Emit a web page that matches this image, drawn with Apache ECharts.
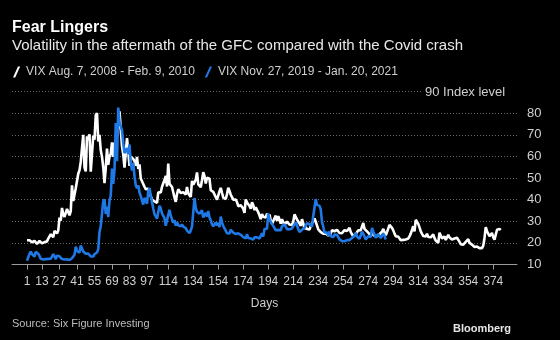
<!DOCTYPE html>
<html>
<head>
<meta charset="utf-8">
<script src="https://cdn.jsdelivr.net/npm/echarts@6/dist/echarts.min.js"></script>
<style>
html,body{margin:0;padding:0;background:#000;}
#c{width:560px;height:340px;}
</style>
</head>
<body>
<div id="c"></div>
<script>
// Day-by-day VIX closes, GFC window (day 1 = Aug. 7, 2008)
const vixGFC = [
  // Aug 2008
  21.2, 20.7, 21.2, 20.5, 20.3, 21.2, 20.9, 20.0, 19.6, 20.4, 20.9, 20.2, 19.8, 19.7, 20.4, 20.0, 20.7,
  // Sep
  22.0, 22.6, 24.0, 23.1, 22.6, 25.5, 24.8, 24.4, 25.7, 31.7, 30.3, 36.2, 33.1, 32.1, 33.9, 35.7, 35.7, 32.8, 34.7, 46.7, 39.4,
  // Oct
  39.8, 45.3, 45.1, 52.0, 53.7, 57.5, 63.9, 70.0, 55.0, 53.1, 69.3, 67.6, 70.3, 53.0, 53.1, 69.7, 67.8, 79.1, 80.1, 67.0, 70.0, 62.9, 59.9,
  // Nov
  54.9, 47.7, 54.6, 63.7, 56.1, 60.0, 61.2, 66.5, 59.8, 66.3, 65.0, 64.7, 74.3, 80.9, 72.7, 64.7, 60.9, 54.9, 55.3,
  // Dec
  68.5, 62.4, 55.7, 59.9, 59.9, 58.9, 57.9, 55.7, 59.8, 54.3, 56.4, 49.8, 50.0, 47.3, 46.0, 44.9, 44.2, 45.0, 43.4, 43.9, 40.0, 40.0,
  // Jan 2009
  39.2, 39.1, 38.6, 43.4, 42.8, 43.3, 46.0, 45.8, 49.1, 51.0, 46.1, 56.7, 47.3, 47.3, 45.9, 45.6, 41.0, 39.0, 42.6, 44.8,
  // Feb
  45.5, 43.1, 43.3, 43.4, 43.0, 42.4, 45.9, 42.9, 43.1, 41.3, 48.7, 47.0, 46.5, 49.3, 52.6, 47.1, 46.8, 45.8, 49.0,
  // Mar
  52.7, 50.9, 47.5, 50.2, 49.3, 49.7, 44.4, 45.0, 43.6, 42.4, 41.2, 40.0, 40.3, 43.8, 45.5, 43.2, 41.0, 40.9, 40.3, 42.6, 45.5, 44.1,
  // Apr
  42.3, 42.0, 40.0, 40.9, 40.1, 38.9, 37.0, 36.8, 37.4, 36.9, 35.8, 33.9, 40.1, 38.7, 38.0, 37.1, 35.8, 38.8, 37.5, 35.2, 36.5,
  // May
  35.3, 34.2, 32.7, 31.0, 33.3, 32.1, 31.8, 31.8, 33.6, 31.4, 33.1, 30.2, 28.8, 29.6, 31.4, 32.6, 30.2, 32.4, 30.7, 28.9,
  // Jun
  31.0, 29.6, 28.5, 28.0, 29.8, 29.6, 28.5, 28.8, 28.3, 29.8, 33.2, 32.7, 30.8, 31.5, 29.0, 27.9, 31.0, 29.0, 26.4, 27.4, 26.4, 26.4,
  // Jul
  26.2, 27.9, 29.0, 29.0, 31.3, 29.8, 29.0, 26.3, 25.9, 25.0, 25.4, 24.3, 24.4, 24.4, 24.3, 23.4, 23.1, 24.3, 25.9, 26.6, 25.4, 25.9,
  // Aug
  26.0, 25.5, 24.6, 24.5, 24.5, 24.5, 25.9, 25.3, 25.5, 24.8, 27.0, 25.0, 25.5, 23.0, 23.4, 24.1, 24.4, 25.8, 25.2, 25.9, 26.0,
  // Sep
  29.2, 26.5, 26.1, 25.3, 24.8, 24.1, 24.2, 24.1, 24.3, 23.4, 23.9, 23.1, 23.9, 24.0, 23.4, 25.2, 26.5, 25.6, 23.5, 25.0, 25.6,
  // Oct
  28.3, 28.7, 27.0, 25.8, 24.3, 23.1, 23.1, 22.9, 23.0, 21.2, 21.6, 21.4, 20.9, 21.6, 22.3, 22.0, 23.0, 24.3, 24.7, 27.7, 25.3, 30.7,
  // Nov
  29.8, 28.8, 27.2, 25.4, 24.2, 23.2, 24.0, 23.0, 24.2, 22.7, 22.9, 22.6, 22.1, 23.9, 22.2, 21.1, 21.0, 20.0, 24.7, 24.5,
  // Dec
  22.1, 21.4, 23.0, 21.3, 22.6, 23.7, 22.5, 21.6, 21.6, 21.5, 22.0, 21.4, 22.4, 21.7, 20.5, 19.4, 19.0, 19.2, 20.0, 20.5, 20.0, 21.7,
  // Jan 2010
  20.0, 19.4, 19.2, 19.1, 18.1, 17.6, 18.3, 17.9, 17.6, 17.9, 17.6, 18.7, 22.3, 27.3, 25.4, 24.6, 23.1, 23.7, 24.6,
  // Feb
  22.6, 21.5, 21.6, 26.1, 26.1, 26.5, 26.0
];

// Day-by-day VIX closes, Covid window (day 1 = Nov. 27, 2019)
const vixCovid = [
  // Nov 2019
  11.75, 12.62,
  // Dec
  14.91, 15.96, 14.80, 14.52, 13.62, 15.86, 15.68, 14.99, 13.94, 12.63, 12.14, 12.29, 12.58, 12.50, 12.51, 12.61, 12.67, 12.65, 13.43, 14.82, 13.78,
  // Jan 2020
  12.47, 14.02, 13.85, 13.79, 13.45, 12.54, 12.56, 12.32, 12.39, 12.42, 12.32, 12.10, 12.85, 12.91, 12.98, 14.56, 18.23, 16.28, 16.39, 15.49, 18.84,
  // Feb
  17.97, 16.05, 15.15, 14.96, 15.47, 15.04, 15.18, 13.74, 14.15, 13.68, 14.83, 14.38, 15.56, 17.08, 25.03, 27.85, 27.56, 39.16, 40.11,
  // Mar
  33.42, 36.82, 31.99, 39.62, 41.94, 54.46, 47.30, 53.90, 75.47, 57.83, 82.69, 75.91, 76.45, 72.00, 66.04, 61.59, 61.67, 63.95, 61.00, 65.54, 57.08, 53.54,
  // Apr
  57.06, 50.91, 46.80, 45.24, 46.70, 43.35, 41.67, 41.17, 37.76, 40.84, 40.11, 38.15, 43.83, 45.41, 41.98, 41.38, 35.93, 33.29, 33.57, 31.23, 34.15,
  // May
  37.19, 35.97, 33.61, 34.12, 31.44, 27.98, 27.57, 33.04, 35.28, 32.61, 31.89, 29.30, 30.53, 27.99, 29.53, 28.16, 28.01, 27.62, 28.59, 27.51,
  // Jun
  28.23, 26.84, 25.66, 25.81, 24.52, 25.81, 27.57, 27.57, 40.79, 36.09, 34.40, 33.67, 33.47, 32.94, 35.12, 31.77, 31.37, 33.84, 32.22, 34.73, 31.78, 30.43,
  // Jul
  28.62, 27.68, 27.94, 29.43, 28.08, 29.26, 27.29, 32.19, 29.52, 27.76, 28.00, 25.68, 24.46, 24.84, 24.32, 26.08, 25.84, 24.74, 25.44, 24.10, 24.76, 24.46,
  // Aug
  24.28, 23.76, 22.99, 22.65, 22.21, 22.13, 24.03, 22.28, 22.59, 22.05, 21.35, 21.51, 22.54, 22.72, 22.54, 22.37, 22.03, 23.27, 24.47, 22.96, 26.41,
  // Sep
  26.12, 26.57, 33.60, 30.75, 31.46, 28.81, 29.71, 26.87, 25.85, 25.59, 26.04, 26.46, 25.83, 27.78, 26.86, 28.58, 28.51, 26.38, 26.19, 26.27, 26.37,
  // Oct
  26.70, 27.63, 27.96, 29.48, 28.06, 26.36, 25.00, 25.07, 26.07, 26.40, 26.97, 27.41, 29.18, 29.35, 28.65, 28.11, 27.55, 32.46, 33.35, 40.28, 37.59, 38.02,
  // Nov
  37.13, 35.55, 29.57, 27.58, 24.86, 25.75, 24.80, 23.45, 25.35, 23.10, 22.45, 22.71, 23.84, 23.11, 23.70, 22.66, 21.64, 21.25, 20.84, 20.57,
  // Dec
  20.77, 21.17, 21.28, 20.79, 21.30, 20.68, 22.27, 22.52, 23.31, 24.72, 22.89, 22.50, 21.93, 21.57, 25.16, 24.23, 23.31, 21.53, 21.70, 23.08, 22.77, 22.75,
  // Jan 2021
  26.97, 25.34, 25.07, 22.37, 21.56, 24.08, 23.33, 22.21, 23.25, 24.34, 23.24, 21.58
];

const dayTicks = [1, 13, 27, 41, 55, 69, 83, 97, 114, 134, 154, 174, 194, 214, 234, 254, 274, 294, 314, 334, 354, 374];
const seriesNames = ['VIX Aug. 7, 2008 - Feb. 9, 2010', 'VIX Nov. 27, 2019 - Jan. 20, 2021'];

const toPoints = arr => arr.map((v, i) => [i + 1, v]);
const FONT = '"Liberation Sans", Arial, sans-serif';

const chart = echarts.init(document.getElementById('c'), null, {renderer: 'canvas'});
chart.setOption({
  backgroundColor: '#000',
  animation: false,
  textStyle: {fontFamily: FONT},
  title: {
    text: 'Fear Lingers',
    subtext: 'Volatility in the aftermath of the GFC compared with the Covid crash',
    left: 12, top: 20, itemGap: 2, padding: 0,
    textStyle: {color: '#fff', fontSize: 16, fontWeight: 'bold', fontFamily: FONT, lineHeight: 16},
    subtextStyle: {color: '#e8e8e8', fontSize: 15, fontFamily: FONT, lineHeight: 16}
  },
  legend: {
    data: seriesNames,
    left: 13, top: 66, padding: 0,
    itemWidth: 9, itemHeight: 11, itemGap: 10,
    icon: 'path://M0,10 L4.5,0 L6.5,0 L2,10 Z',
    textStyle: {color: '#cfcfcf', fontSize: 12, fontFamily: FONT}
  },
  grid: {left: 12, right: 43, top: 91.7, bottom: 75.5},
  xAxis: {
    type: 'value', min: -11, max: 393,
    name: 'Days', nameLocation: 'middle', nameGap: 33,
    nameTextStyle: {color: '#cfcfcf', fontSize: 12, fontFamily: FONT},
    axisLine: {show: true, lineStyle: {color: '#9a9a9a', width: 1}},
    axisTick: {show: true, customValues: dayTicks, length: 5, lineStyle: {color: '#9a9a9a'}},
    axisLabel: {customValues: dayTicks, color: '#cfcfcf', fontSize: 12, margin: 11, fontFamily: FONT},
    splitLine: {show: false}
  },
  yAxis: {
    type: 'value', position: 'right', min: 10, max: 90, interval: 10,
    axisLine: {show: false}, axisTick: {show: false},
    axisLabel: {color: '#cfcfcf', fontSize: 13, margin: 10, fontFamily: FONT,
      formatter: v => (v === 90 ? '' : String(v))},
    splitLine: {show: true, lineStyle: {color: '#6a6a6a', type: [1, 2], width: 1}}
  },
  graphic: [{
    type: 'text', left: 421, top: 84.5, z: 100,
    style: {text: '90 Index level', fill: '#cfcfcf', font: '13px ' + FONT,
      backgroundColor: '#000', padding: [1, 14, 1, 4]}
  }, {
    type: 'text', left: 12, top: 318,
    style: {text: 'Source: Six Figure Investing', fill: '#bdbdbd', font: '11px ' + FONT}
  }, {
    type: 'text', right: 49, top: 323,
    style: {text: 'Bloomberg', fill: '#e6e6e6', font: 'bold 11px ' + FONT}
  }],
  series: [{
    name: seriesNames[0], type: 'line', data: toPoints(vixGFC),
    showSymbol: false, color: '#ffffff',
    lineStyle: {color: '#ffffff', width: 2.6}, z: 2
  }, {
    name: seriesNames[1], type: 'line', data: toPoints(vixCovid),
    showSymbol: false, color: '#1e78e6',
    lineStyle: {color: '#1e78e6', width: 2.6}, z: 3
  }]
});
</script>
</body>
</html>
